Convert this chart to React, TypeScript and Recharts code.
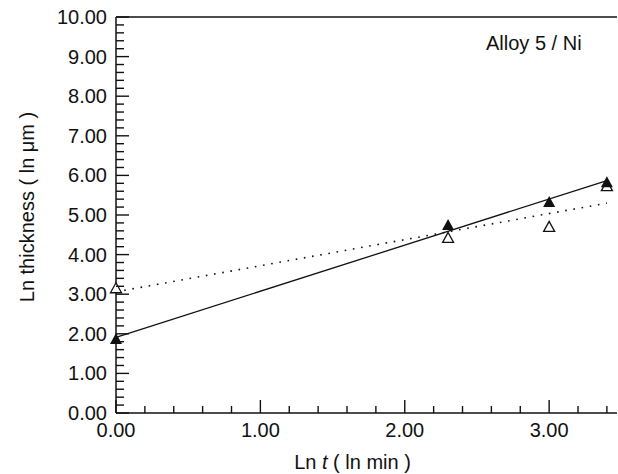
import React from "react";
import {
  ScatterChart,
  Scatter,
  XAxis,
  YAxis,
  ReferenceLine,
  Label,
} from "recharts";

// ln of times 1, 10, 20, 30 min
const lnTime = [0.0, 2.3, 3.0, 3.4];
const filledThickness = [1.87, 4.75, 5.33, 5.83];
const openThickness = [3.15, 4.42, 4.7, 5.73];

// fitted lines (ends)
const fitX = [0.0, 3.4];
const solidFit = [1.91, 5.87];
const dottedFit = [3.06, 5.3];

const xMajorTicks = [0, 1, 2, 3];
const yMajorTicks = [0, 1, 2, 3, 4, 5, 6, 7, 8, 9, 10];
const minorStep = 0.2;

const xTicks: number[] = [];
for (let i = 0; i <= 17; i++) xTicks.push(+(i * minorStep).toFixed(1));
const yTicks: number[] = [];
for (let i = 0; i <= 50; i++) yTicks.push(+(i * minorStep).toFixed(1));

const filledData = lnTime.map((x, i) => ({ x, y: filledThickness[i] }));
const openData = lnTime.map((x, i) => ({ x, y: openThickness[i] }));
const solidData = fitX.map((x, i) => ({ x, y: solidFit[i] }));
const dottedData = fitX.map((x, i) => ({ x, y: dottedFit[i] }));

const FONT = "'Liberation Sans', Arial, Helvetica, sans-serif";
const INK = "#111";

const isMajor = (v: number, majors: number[]) =>
  majors.some((m) => Math.abs(m - v) < 1e-6);

const YTick = (props: any) => {
  const { x, y, payload } = props;
  const v = payload.value as number;
  const major = isMajor(v, yMajorTicks);
  return (
    <g>
      <line x1={x} x2={x + (major ? 13 : 8)} y1={y} y2={y} stroke={INK} strokeWidth={1.4} />
      {major && (
        <text x={x - 9} y={y + 7} textAnchor="end" fontSize={20} fontFamily={FONT} fill={INK}>
          {v.toFixed(2)}
        </text>
      )}
    </g>
  );
};

const XTick = (props: any) => {
  const { x, y, payload } = props;
  const v = payload.value as number;
  const major = isMajor(v, xMajorTicks);
  return (
    <g>
      <line x1={x} x2={x} y1={y} y2={y - (major ? 13 : 7)} stroke={INK} strokeWidth={1.4} />
      {major && (
        <text x={x} y={y + 24} textAnchor="middle" fontSize={20} fontFamily={FONT} fill={INK}>
          {v.toFixed(2)}
        </text>
      )}
    </g>
  );
};

const FilledTriangle = (props: any) => {
  const { cx, cy } = props;
  return <path d={`M${cx},${cy - 6}L${cx + 6},${cy + 5}L${cx - 6},${cy + 5}Z`} fill={INK} />;
};

const OpenTriangle = (props: any) => {
  const { cx, cy } = props;
  return (
    <path
      d={`M${cx},${cy - 5.5}L${cx + 5.5},${cy + 4.5}L${cx - 5.5},${cy + 4.5}Z`}
      fill="#fff"
      stroke={INK}
      strokeWidth={1.3}
    />
  );
};

const NoDot = () => <g />;

export default function App() {
  return (
    <div style={{ position: "absolute", left: 0, top: 0, background: "#fff" }}>
      <ScatterChart
        width={618}
        height={474}
        margin={{ top: 17, right: 1, bottom: 60, left: 115 }}
      >
        <XAxis
          type="number"
          dataKey="x"
          domain={[0, 3.47]}
          ticks={xTicks}
          interval={0}
          height={1}
          tickSize={0}
          tickMargin={0}
          tickLine={false}
          tick={<XTick />}
          axisLine={{ stroke: INK, strokeWidth: 1.5 }}
        >
          <Label
            content={(p: any) => {
              const vb = p.viewBox;
              return (
                <text
                  x={vb.x + vb.width / 2 - 14}
                  y={469}
                  textAnchor="middle"
                  fontSize={20}
                  fontFamily={FONT}
                  fill={INK}
                >
                  Ln <tspan fontStyle="italic">t</tspan> ( ln min )
                </text>
              );
            }}
          />
        </XAxis>
        <YAxis
          type="number"
          dataKey="y"
          domain={[0, 10]}
          ticks={yTicks}
          interval={0}
          width={1}
          tickSize={0}
          tickMargin={0}
          tickLine={false}
          tick={<YTick />}
          axisLine={{ stroke: INK, strokeWidth: 1.5 }}
        >
          <Label
            content={() => (
              <text
                x={27}
                y={207}
                transform="rotate(-90 27 207)"
                textAnchor="middle"
                dominantBaseline="central"
                fontSize={20}
                fontFamily={FONT}
                fill={INK}
              >
                Ln thickness ( ln μm )
              </text>
            )}
          />
        </YAxis>
        <ReferenceLine
          y={10}
          stroke={INK}
          strokeWidth={1.5}
          label={() => (
            <text x={486} y={50} fontSize={20} fontFamily={FONT} fill={INK}>
              Alloy 5 / Ni
            </text>
          )}
        />
        <Scatter
          data={dottedData}
          line={{ stroke: INK, strokeWidth: 1.6, strokeDasharray: "1.6 6.7" }}
          shape={<NoDot />}
          isAnimationActive={false}
        />
        <Scatter
          data={solidData}
          line={{ stroke: INK, strokeWidth: 1.3 }}
          shape={<NoDot />}
          isAnimationActive={false}
        />
        <Scatter data={openData} shape={<OpenTriangle />} isAnimationActive={false} />
        <Scatter data={filledData} shape={<FilledTriangle />} isAnimationActive={false} />
      </ScatterChart>
    </div>
  );
}
